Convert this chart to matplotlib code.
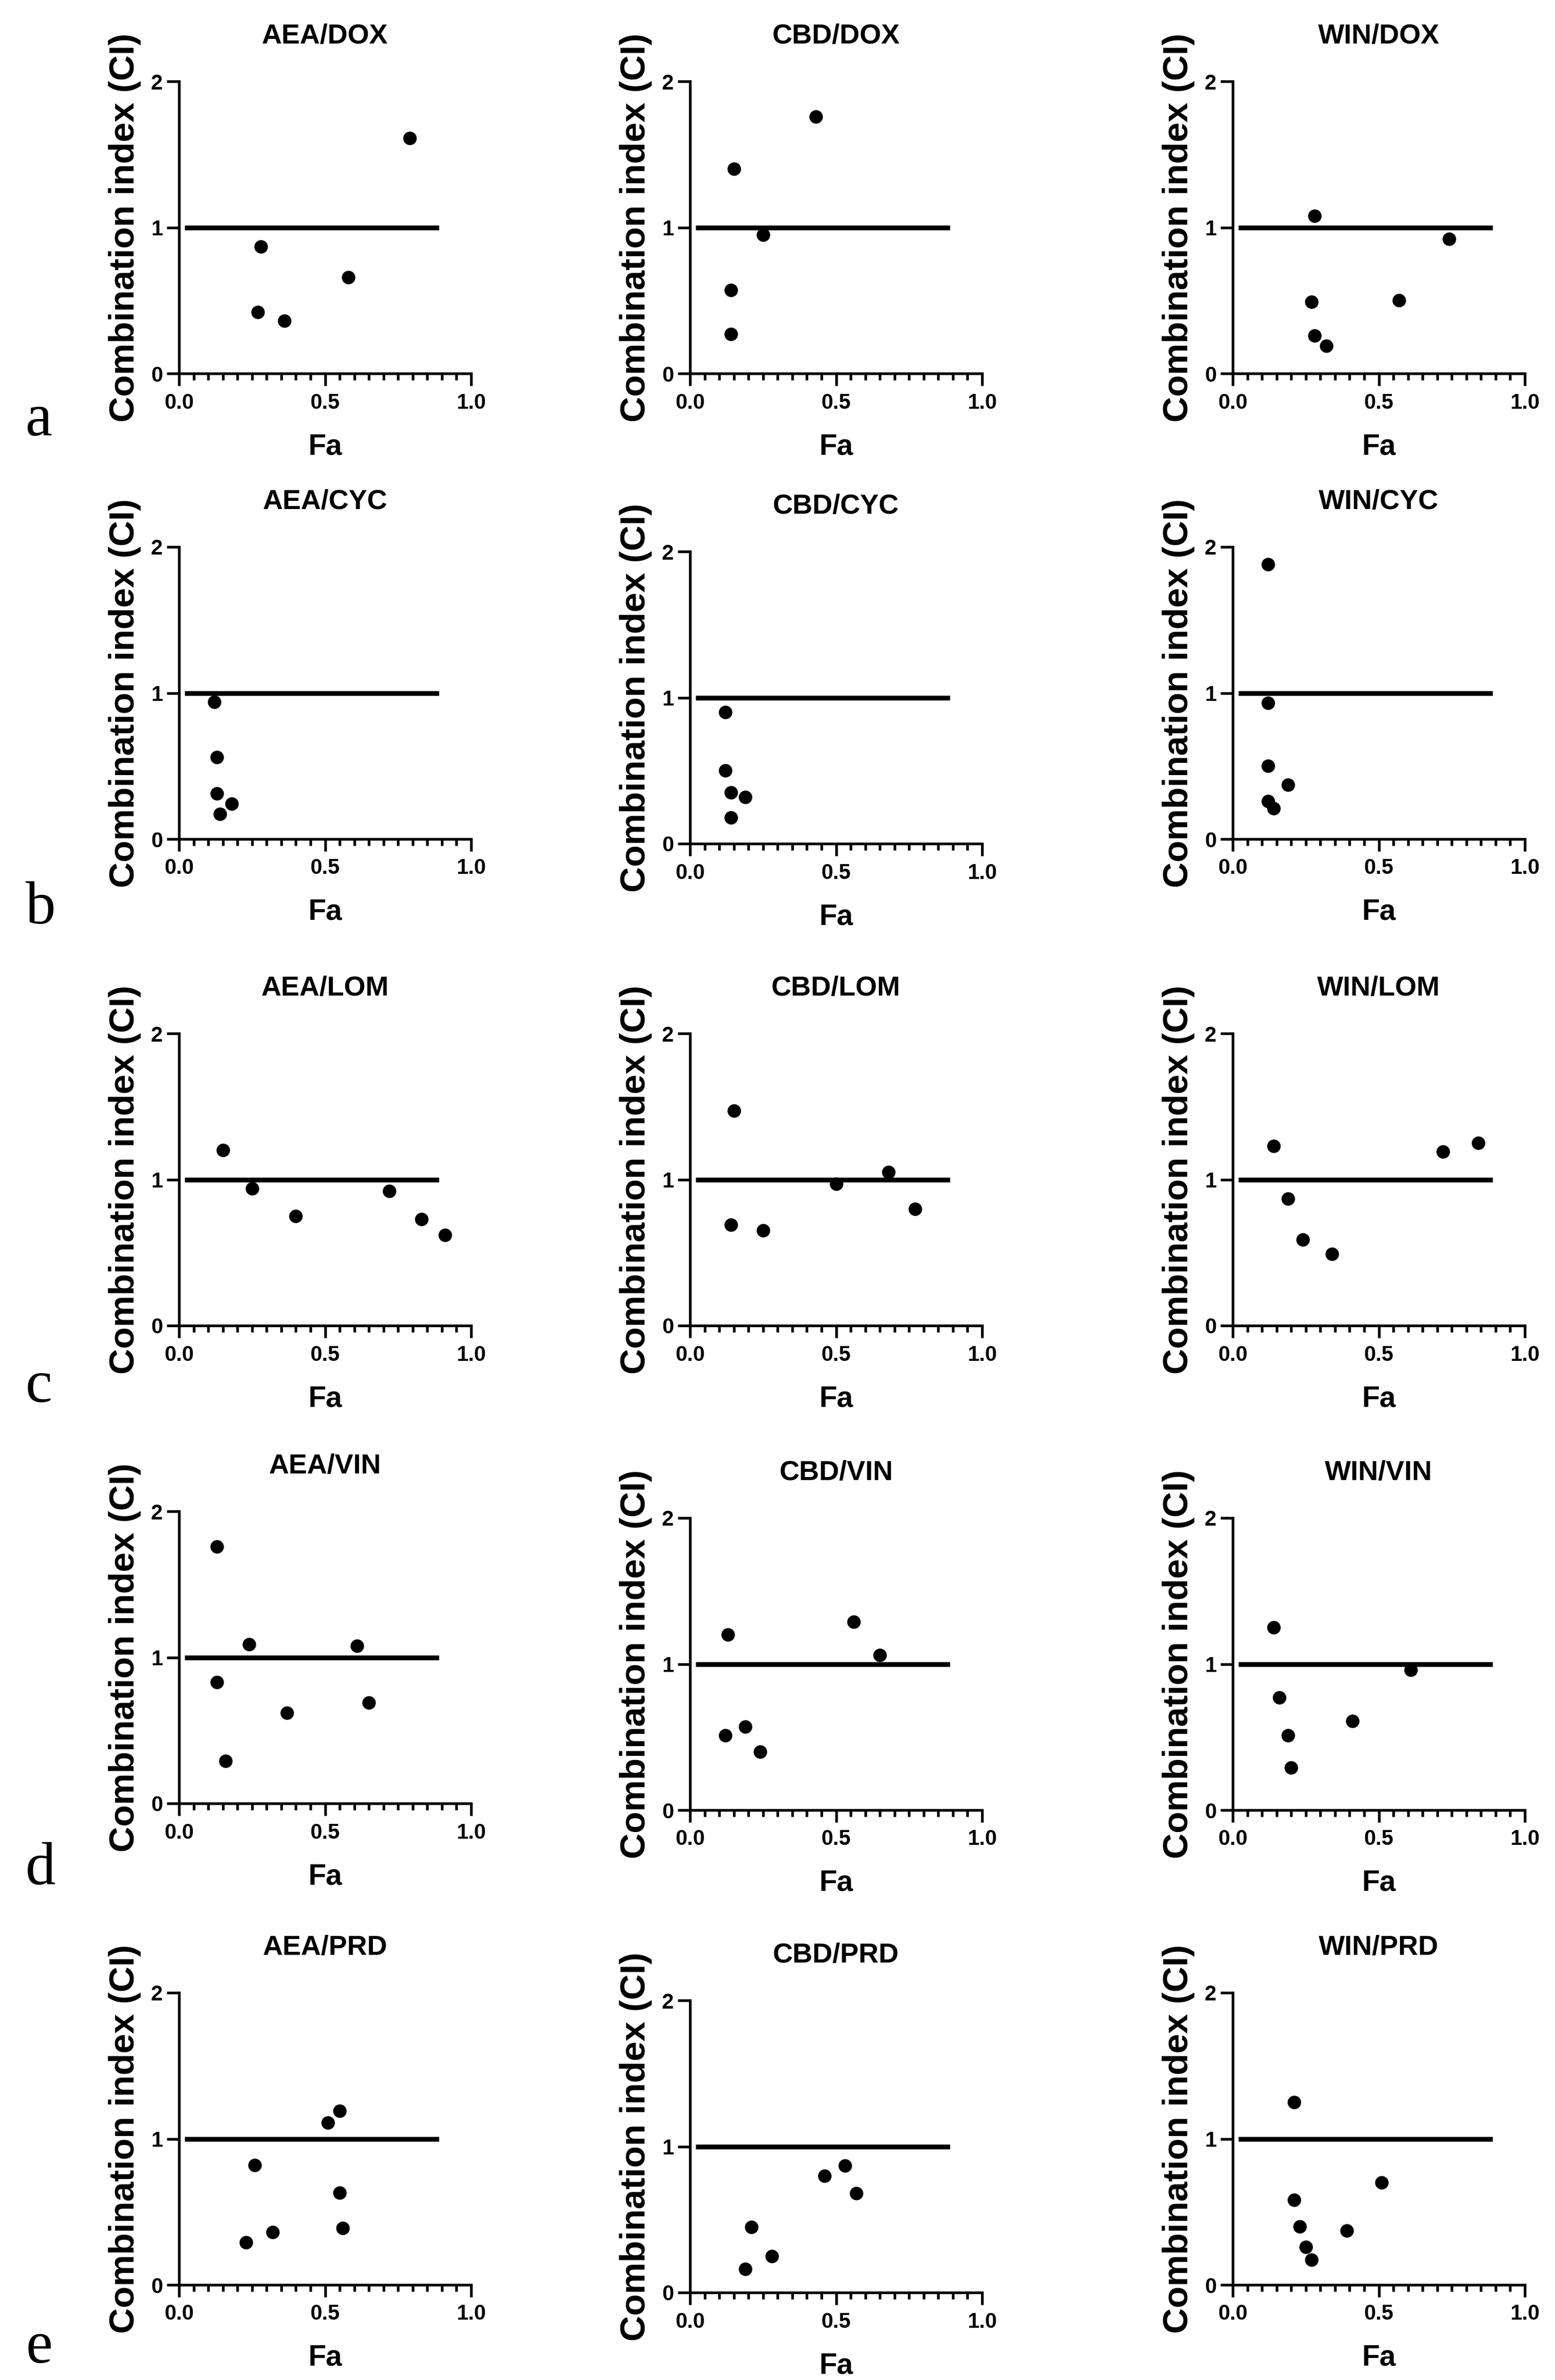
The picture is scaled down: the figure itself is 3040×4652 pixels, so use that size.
import matplotlib
matplotlib.use('Agg')
import matplotlib.pyplot as plt
from matplotlib.ticker import MultipleLocator

# Fa / CI values per combination
aea_dox_fa = [0.79, 0.28, 0.58, 0.27, 0.36]
aea_dox_ci = [1.61, 0.87, 0.66, 0.42, 0.36]
cbd_dox_fa = [0.43, 0.15, 0.25, 0.14, 0.14]
cbd_dox_ci = [1.76, 1.40, 0.95, 0.57, 0.27]
win_dox_fa = [0.28, 0.74, 0.27, 0.57, 0.28, 0.32]
win_dox_ci = [1.08, 0.92, 0.49, 0.50, 0.26, 0.19]

aea_cyc_fa = [0.12, 0.13, 0.13, 0.18, 0.14]
aea_cyc_ci = [0.94, 0.56, 0.31, 0.24, 0.17]
cbd_cyc_fa = [0.12, 0.12, 0.14, 0.19, 0.14]
cbd_cyc_ci = [0.90, 0.50, 0.35, 0.32, 0.18]
win_cyc_fa = [0.12, 0.12, 0.12, 0.19, 0.12, 0.14]
win_cyc_ci = [1.88, 0.93, 0.50, 0.37, 0.26, 0.21]

aea_lom_fa = [0.15, 0.25, 0.40, 0.72, 0.83, 0.91]
aea_lom_ci = [1.20, 0.94, 0.75, 0.92, 0.73, 0.62]
cbd_lom_fa = [0.15, 0.14, 0.25, 0.50, 0.68, 0.77]
cbd_lom_ci = [1.47, 0.69, 0.65, 0.97, 1.05, 0.80]
win_lom_fa = [0.14, 0.19, 0.24, 0.34, 0.72, 0.84]
win_lom_ci = [1.23, 0.87, 0.59, 0.49, 1.19, 1.25]

aea_vin_fa = [0.13, 0.24, 0.61, 0.13, 0.37, 0.65, 0.16]
aea_vin_ci = [1.76, 1.09, 1.08, 0.83, 0.62, 0.69, 0.29]
cbd_vin_fa = [0.13, 0.56, 0.65, 0.12, 0.19, 0.24]
cbd_vin_ci = [1.20, 1.29, 1.06, 0.51, 0.57, 0.40]
win_vin_fa = [0.14, 0.61, 0.16, 0.41, 0.19, 0.20]
win_vin_ci = [1.25, 0.96, 0.77, 0.61, 0.51, 0.29]

aea_prd_fa = [0.55, 0.51, 0.26, 0.55, 0.56, 0.32, 0.23]
aea_prd_ci = [1.19, 1.11, 0.82, 0.63, 0.39, 0.36, 0.29]
cbd_prd_fa = [0.46, 0.53, 0.57, 0.21, 0.28, 0.19]
cbd_prd_ci = [0.80, 0.87, 0.68, 0.45, 0.25, 0.16]
win_prd_fa = [0.21, 0.51, 0.21, 0.23, 0.39, 0.25, 0.27]
win_prd_ci = [1.25, 0.70, 0.58, 0.40, 0.37, 0.26, 0.17]

row_letters = ['a', 'b', 'c', 'd', 'e']
x_ticks = [0.0, 0.5, 1.0]
x_tick_labels = ['0.0', '0.5', '1.0']
y_ticks = [0, 1, 2]
y_tick_labels = ['0', '1', '2']

panels = [
    [('AEA/DOX', aea_dox_fa, aea_dox_ci), ('CBD/DOX', cbd_dox_fa, cbd_dox_ci), ('WIN/DOX', win_dox_fa, win_dox_ci)],
    [('AEA/CYC', aea_cyc_fa, aea_cyc_ci), ('CBD/CYC', cbd_cyc_fa, cbd_cyc_ci), ('WIN/CYC', win_cyc_fa, win_cyc_ci)],
    [('AEA/LOM', aea_lom_fa, aea_lom_ci), ('CBD/LOM', cbd_lom_fa, cbd_lom_ci), ('WIN/LOM', win_lom_fa, win_lom_ci)],
    [('AEA/VIN', aea_vin_fa, aea_vin_ci), ('CBD/VIN', cbd_vin_fa, cbd_vin_ci), ('WIN/VIN', win_vin_fa, win_vin_ci)],
    [('AEA/PRD', aea_prd_fa, aea_prd_ci), ('CBD/PRD', cbd_prd_fa, cbd_prd_ci), ('WIN/PRD', win_prd_fa, win_prd_ci)],
]

# layout in pixels (figure 3040 x 4652 at dpi 100)
W, H = 3040, 4652
col_left = [350, 1349, 2410]
ax_w, ax_h = 571, 571
# pixel row of the y=0 line for each panel
row_bottom = [
    [730, 730, 730],
    [1640, 1649, 1640],
    [2591, 2591, 2591],
    [3525, 3538, 3538],
    [4466, 4481, 4466],
]
letter_baseline = [851, 1805, 2740, 3683, 4618]

SANS = 'Liberation Sans'
plt.rcParams['font.family'] = SANS
plt.rcParams['font.weight'] = 'bold'

fig = plt.figure(figsize=(W / 100, H / 100), dpi=100)

for r, row in enumerate(panels):
    for c, (title, fa, ci) in enumerate(row):
        y0 = row_bottom[r][c]
        ax = fig.add_axes([col_left[c] / W, 1 - y0 / H, ax_w / W, ax_h / H])

        # additivity line at CI = 1
        ax.plot([0.02, 0.89], [1, 1], color='black', lw=6.8, solid_capstyle='butt')
        ax.plot(fa, ci, 'o', color='black', markersize=18, clip_on=False)

        ax.set_xlim(0, 1)
        ax.set_ylim(0, 2)
        ax.set_xticks(x_ticks)
        ax.set_xticklabels(x_tick_labels)
        ax.set_yticks(y_ticks)
        ax.set_yticklabels(y_tick_labels)
        ax.xaxis.set_minor_locator(MultipleLocator(0.05))

        for side in ['top', 'right']:
            ax.spines[side].set_visible(False)
        for side in ['left', 'bottom']:
            ax.spines[side].set_linewidth(3.8)

        ax.tick_params(axis='both', which='major', length=17, width=3.8,
                       labelsize=30, pad=10)
        ax.tick_params(axis='x', which='minor', length=9, width=3.8)
        ax.tick_params(axis='y', which='major', pad=6)
        for lab in ax.get_xticklabels() + ax.get_yticklabels():
            lab.set_fontweight('bold')

        ax.set_title(title, fontsize=39, fontweight='bold', pad=53)
        ax.set_xlabel('Fa', fontsize=41, fontweight='bold', va='baseline')
        ax.xaxis.set_label_coords(0.5, -158 / ax_h)
        ax.set_ylabel('Combination index (CI)', fontsize=50, fontweight='bold', va='center')
        ax.yaxis.set_label_coords(-106 / ax_w, 0.5)

    fig.text(50 / W, 1 - letter_baseline[r] / H, row_letters[r], fontsize=85,
             family='Liberation Serif', fontweight='normal', va='baseline', ha='left')

fig.savefig('out.png', dpi=100, facecolor='white')
